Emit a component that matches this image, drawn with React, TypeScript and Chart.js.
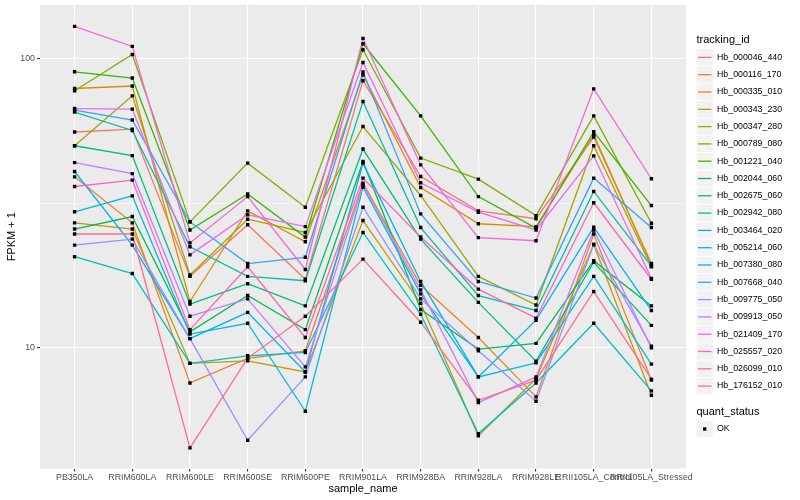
import React, { useEffect, useRef } from "react";
import { Chart, registerables } from "chart.js";

Chart.register(...registerables);

const sampleNames = [
  "PB350LA", "RRIM600LA", "RRIM600LE", "RRIM600SE", "RRIM600PE", "RRIM901LA",
  "RRIM928BA", "RRIM928LA", "RRIM928LE", "RRII105LA_Control", "RRII105LA_Stressed",
];

const trackingIds = [
  "Hb_000046_440", "Hb_000116_170", "Hb_000335_010", "Hb_000343_230", "Hb_000347_280",
  "Hb_000789_080", "Hb_001221_040", "Hb_002044_060", "Hb_002675_060", "Hb_002942_080",
  "Hb_003464_020", "Hb_005214_060", "Hb_007380_080", "Hb_007668_040", "Hb_009775_050",
  "Hb_009913_050", "Hb_021409_170", "Hb_025557_020", "Hb_026099_010", "Hb_176152_010",
];

const seriesColors = [
  "#F8766D", "#EA8331", "#D89000", "#C09B00", "#A3A500", "#7CAE00", "#39B600", "#00BB4E",
  "#00BF7D", "#00C1A3", "#00BFC4", "#00BAE0", "#00B0F6", "#35A2FF", "#9590FF", "#C77CFF",
  "#E76BF3", "#FA62DB", "#FF62BC", "#FF6C90",
];

// FPKM + 1 per sample, in sampleNames order
const hb_000046_440 = [55.8, 57.1, 17.6, 26.6, 17.2, 84.1, 39.1, 29.7, 27.9, 53.6, 19.5];
const hb_000116_170 = [39.0, 27.0, 7.51, 9.14, 9.71, 37.1, 16.4, 10.8, 6.72, 24.7, 7.68];
const hb_000335_010 = [79.0, 80.6, 14.4, 29.7, 23.2, 88.2, 35.8, 26.8, 26.2, 54.6, 19.3];
const hb_000343_230 = [27.0, 25.7, 8.78, 8.96, 8.2, 27.5, 14.2, 4.92, 7.78, 22.7, 6.81];
const hb_000347_280 = [50.0, 74.5, 17.8, 27.8, 25.0, 58.3, 33.6, 17.6, 14.0, 50.0, 19.0];
const hb_000789_080 = [77.6, 103.7, 27.2, 43.5, 30.6, 107.7, 45.3, 38.3, 28.6, 63.5, 26.9];
const hb_001221_040 = [90.3, 85.9, 25.5, 34.0, 24.1, 113.0, 63.5, 33.3, 25.9, 55.9, 31.0];
const hb_002044_060 = [25.7, 28.4, 11.3, 15.1, 11.5, 44.1, 13.5, 9.84, 10.3, 19.95, 13.9];
const hb_002675_060 = [50.0, 46.2, 14.1, 16.6, 13.9, 48.7, 23.7, 14.3, 8.94, 19.7, 11.9];
const hb_002942_080 = [65.4, 56.5, 22.3, 17.6, 17.0, 71.2, 26.0, 15.1, 13.4, 34.7, 19.1];
const hb_003464_020 = [20.6, 18.0, 8.78, 9.33, 9.58, 25.0, 13.0, 5.01, 7.51, 12.1, 7.05];
const hb_005214_060 = [29.5, 33.5, 11.1, 12.1, 5.99, 35.9, 15.3, 7.88, 8.82, 17.6, 8.73];
const hb_007380_080 = [40.7, 22.6, 10.7, 13.2, 8.2, 43.5, 16.9, 7.88, 12.4, 26.1, 13.4];
const hb_007668_040 = [66.5, 61.4, 27.2, 19.5, 20.5, 90.1, 29.0, 16.9, 14.8, 38.6, 26.0];
const hb_009775_050 = [22.6, 23.7, 10.7, 4.75, 7.88, 30.6, 14.7, 9.71, 6.49, 22.7, 10.08];
const hb_009913_050 = [43.7, 40.0, 12.8, 14.7, 8.54, 36.6, 15.8, 6.42, 7.88, 25.5, 9.94];
const hb_021409_170 = [67.3, 67.0, 20.9, 28.8, 26.2, 97.3, 37.2, 29.4, 25.5, 46.1, 17.3];
const hb_025557_020 = [129.8, 110.6, 23.0, 33.3, 18.6, 117.9, 42.9, 24.0, 23.4, 78.8, 38.4];
const hb_026099_010 = [36.1, 38.0, 11.5, 19.0, 10.8, 38.6, 24.1, 15.9, 12.6, 31.7, 17.2];
const hb_176152_010 = [24.7, 24.7, 4.47, 9.16, 12.8, 20.2, 12.2, 6.54, 7.68, 15.6, 7.74];

const seriesValues = [
  hb_000046_440, hb_000116_170, hb_000335_010, hb_000343_230, hb_000347_280,
  hb_000789_080, hb_001221_040, hb_002044_060, hb_002675_060, hb_002942_080,
  hb_003464_020, hb_005214_060, hb_007380_080, hb_007668_040, hb_009775_050,
  hb_009913_050, hb_021409_170, hb_025557_020, hb_026099_010, hb_176152_010,
];

const yMajorTicks = [10, 100];
const yMinorTicks = [31.6228];
const quantStatus = ["OK"];

const FONT = '"Liberation Sans", Arial, Helvetica, sans-serif';

const isMinor = (v: number) => yMinorTicks.some((m) => Math.abs(m - v) < 1e-6);

const panelPlugin = {
  id: "ggPanel",
  beforeDraw(chart: any) {
    const { ctx, chartArea } = chart;
    ctx.save();
    ctx.fillStyle = "#EBEBEB";
    ctx.fillRect(chartArea.left, chartArea.top, chartArea.right - chartArea.left, chartArea.bottom - chartArea.top);
    ctx.restore();
  },
  afterDraw(chart: any) {
    const { ctx, chartArea } = chart;
    ctx.save();
    // axis titles
    ctx.fillStyle = "#000000";
    ctx.font = `11px ${FONT}`;
    ctx.textAlign = "center";
    ctx.textBaseline = "middle";
    ctx.fillText("sample_name", (chartArea.left + chartArea.right) / 2, 488.5);
    ctx.save();
    ctx.translate(12, (chartArea.top + chartArea.bottom) / 2);
    ctx.rotate(-Math.PI / 2);
    ctx.fillText("FPKM + 1", 0, 0);
    ctx.restore();

    // legend
    const lx = 696.5;
    ctx.textAlign = "left";
    ctx.font = `11px ${FONT}`;
    ctx.fillText("tracking_id", lx, 40);
    const step = 17.3;
    trackingIds.forEach((id, i) => {
      const cy = 57.3 + i * step;
      ctx.fillStyle = "#F2F2F2";
      ctx.fillRect(lx, cy - 8.1, 16.4, 16.4);
      ctx.strokeStyle = seriesColors[i];
      ctx.lineWidth = 1.3;
      ctx.beginPath();
      ctx.moveTo(lx + 1.5, cy + 0.1);
      ctx.lineTo(lx + 15, cy + 0.1);
      ctx.stroke();
      ctx.fillStyle = "#000000";
      ctx.font = `8.8px ${FONT}`;
      ctx.fillText(id, 717, cy);
    });
    ctx.font = `11px ${FONT}`;
    ctx.fillText("quant_status", lx, 412.3);
    quantStatus.forEach((s, i) => {
      const cy = 429 + i * step;
      ctx.fillStyle = "#F2F2F2";
      ctx.fillRect(lx, cy - 8.1, 16.4, 16.4);
      ctx.fillStyle = "#000000";
      ctx.fillRect(lx + 8.2 - 1.7, cy - 1.7, 3.4, 3.4);
      ctx.font = `8.8px ${FONT}`;
      ctx.fillText(s, 717, cy);
    });
    ctx.restore();
  },
};

export default function App() {
  const canvasRef = useRef<HTMLCanvasElement | null>(null);

  useEffect(() => {
    if (!canvasRef.current) return;
    const lineSets = seriesValues.map((vals, i) => ({
      type: "line" as const,
      label: trackingIds[i],
      data: vals.map((v, j) => ({ x: j, y: v })),
      borderColor: seriesColors[i],
      backgroundColor: seriesColors[i],
      borderWidth: 1.3,
      pointRadius: 0,
      tension: 0,
      fill: false,
      order: 100 - i,
    }));
    const pointSet = {
      type: "line" as const,
      label: "points",
      data: seriesValues.flatMap((vals) => vals.map((v, j) => ({ x: j, y: v }))),
      showLine: false,
      pointStyle: "rect" as const,
      pointRadius: 2.4,
      pointBackgroundColor: "#000000",
      pointBorderWidth: 0,
      borderWidth: 0,
      order: 0,
    };

    const chart = new Chart(canvasRef.current, {
      type: "line",
      data: { datasets: [...lineSets, pointSet] as any },
      options: {
        animation: false,
        responsive: false,
        events: [],
        layout: { padding: { left: 0, top: 5, right: 114, bottom: 0 } },
        plugins: { legend: { display: false }, tooltip: { enabled: false } },
        scales: {
          x: {
            type: "linear",
            min: -0.6,
            max: 10.6,
            afterBuildTicks: (scale: any) => {
              scale.ticks = sampleNames.map((_, i) => ({ value: i }));
            },
            afterFit: (scale: any) => {
              scale.height = 31.5;
              scale.paddingLeft = 0;
              scale.paddingRight = 0;
            },
            ticks: {
              autoSkip: false,
              maxRotation: 0,
              minRotation: 0,
              padding: 1,
              color: "#4D4D4D",
              font: { family: FONT, size: 8.8 },
              callback: (v: any) => sampleNames[Math.round(Number(v))] ?? "",
            },
            grid: { color: "#FFFFFF", lineWidth: 1.1, tickColor: "#333333", tickLength: 3 },
            border: { display: false },
          },
          y: {
            type: "logarithmic",
            min: 3.79,
            max: 154,
            afterBuildTicks: (scale: any) => {
              scale.ticks = [...yMajorTicks, ...yMinorTicks].sort((a, b) => a - b).map((v) => ({ value: v }));
            },
            afterFit: (scale: any) => {
              scale.width = 40;
              scale.paddingTop = 0;
              scale.paddingBottom = 0;
            },
            ticks: {
              autoSkip: false,
              padding: 2,
              color: "#4D4D4D",
              font: { family: FONT, size: 8.8 },
              callback: (v: any) => (isMinor(Number(v)) ? "" : String(Number(v))),
            },
            grid: {
              color: "#FFFFFF",
              lineWidth: (c: any) => (c.tick && isMinor(c.tick.value) ? 0.55 : 1.1),
              tickColor: (c: any) => (c.tick && isMinor(c.tick.value) ? "rgba(0,0,0,0)" : "#333333"),
              tickLength: 3,
            },
            border: { display: false },
          },
        },
      } as any,
      plugins: [panelPlugin],
    });
    return () => chart.destroy();
  }, []);

  return (
    <div style={{ position: "fixed", left: 0, top: 0, width: 800, height: 500, background: "#FFFFFF" }}>
      <canvas ref={canvasRef} width={800} height={500} style={{ width: 800, height: 500 }} />
    </div>
  );
}
